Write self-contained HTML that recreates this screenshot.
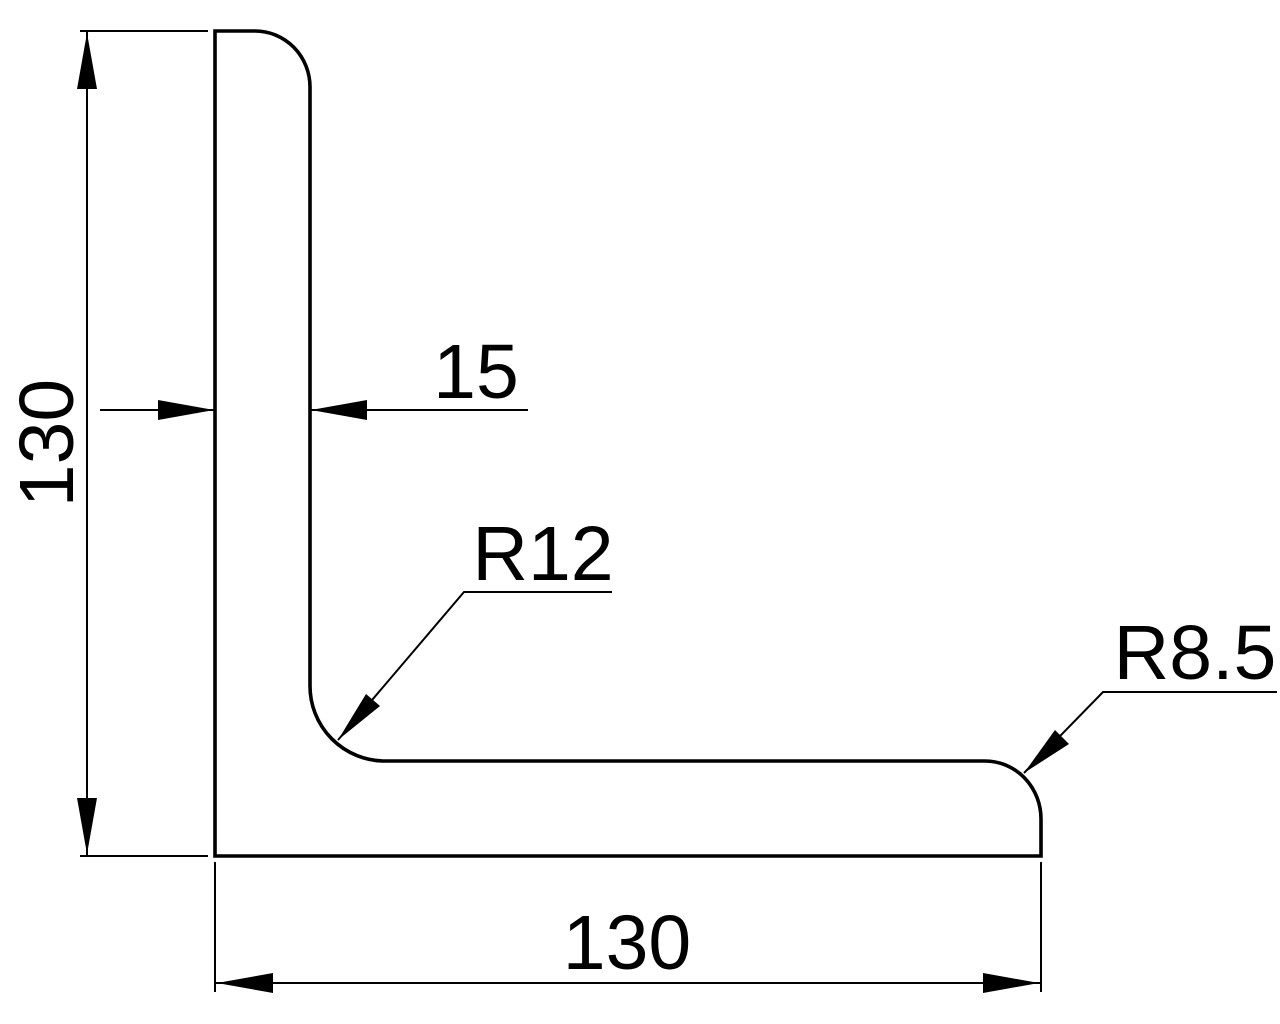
<!DOCTYPE html>
<html><head><style>
html,body{margin:0;padding:0;background:#fff;}
svg{display:block;}
text{font-family:"Liberation Sans",Arial,sans-serif;font-size:77px;fill:#000;}
</style></head><body>
<svg width="1280" height="1024" viewBox="0 0 1280 1024" xmlns="http://www.w3.org/2000/svg">
<path d="M215,31 H255 A55,56 0 0 1 310,87 V685 A75,75 0 0 0 385,761 H985 A56,58 0 0 1 1041,819 V856 H215 Z" fill="none" stroke="#000" stroke-width="3.6"/>
<g stroke="#000" stroke-width="2" fill="none">
<line x1="80" y1="31" x2="208" y2="31"/>
<line x1="80" y1="856" x2="208" y2="856"/>
<line x1="87" y1="31" x2="87" y2="856"/>
<line x1="215" y1="862" x2="215" y2="992"/>
<line x1="1041" y1="862" x2="1041" y2="992"/>
<line x1="215" y1="983" x2="1041" y2="983"/>
<line x1="100" y1="410" x2="215" y2="410"/>
<line x1="310" y1="410" x2="528" y2="410"/>
<polyline points="338,740 464,592 612,592"/>
<polyline points="1024,773 1103,692 1277,692"/>
</g>
<g fill="#000">
<polygon points="87,33 77,89 97,89"/>
<polygon points="87,854 77,798 97,798"/>
<polygon points="217,983 273,973 273,993"/>
<polygon points="1039,983 983,973 983,993"/>
<polygon points="214,410 158,400 158,420"/>
<polygon points="311,410 367,400 367,420"/>
<polygon points="338,740 366,694 380,706"/>
<polygon points="1024,773 1055,730 1069,744"/>
</g>
<text x="627" y="969" text-anchor="middle">130</text>
<text x="476" y="398" text-anchor="middle">15</text>
<text x="543" y="580" text-anchor="middle">R12</text>
<text x="1195" y="679" text-anchor="middle">R8.5</text>
<text transform="translate(73,443) rotate(-90)" text-anchor="middle">130</text>
</svg>
</body></html>
